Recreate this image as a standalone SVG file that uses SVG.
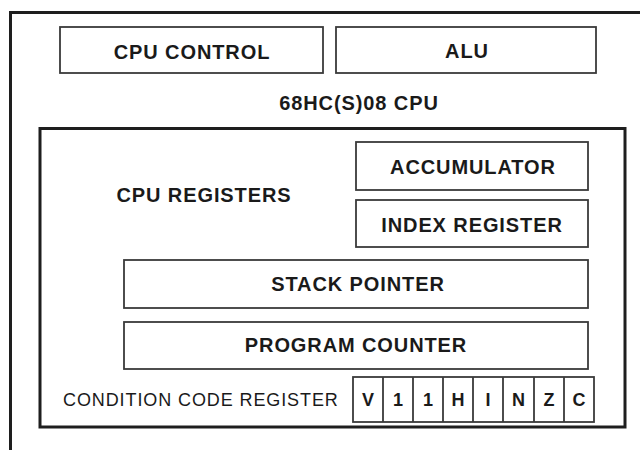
<svg xmlns="http://www.w3.org/2000/svg" width="640" height="450" viewBox="0 0 640 450">
<style>
.frame{fill:none;stroke:#1e1e1e;stroke-width:3}
.box{fill:#fff;stroke:#3a3a3a;stroke-width:1.8}
.lbl{font-family:"Liberation Sans",Arial,sans-serif;font-weight:bold;font-size:20px;letter-spacing:0.9px;fill:#1a1a1a;text-anchor:middle}
.reg{font-family:"Liberation Sans",Arial,sans-serif;font-size:18px;letter-spacing:0.9px;fill:#1a1a1a}
.bit{font-family:"Liberation Sans",Arial,sans-serif;font-weight:bold;font-size:18px;fill:#1a1a1a;text-anchor:middle}
</style>
<rect width="640" height="450" fill="#fff"/>
<g id="cpu">
<path class="frame" d="M10.5,450 V12.5 H640"/>
<text class="lbl" x="359" y="110">68HC(S)08 CPU</text>
</g>
<g id="cpu-control">
<rect class="box" x="60" y="27" width="263" height="46"/>
<text class="lbl" x="192" y="59">CPU CONTROL</text>
</g>
<g id="alu">
<rect class="box" x="336" y="27" width="260" height="46"/>
<text class="lbl" x="467" y="58">ALU</text>
</g>
<g id="cpu-registers">
<rect class="frame" x="40" y="128.5" width="585" height="298.5"/>
<text class="lbl" x="204" y="202">CPU REGISTERS</text>
</g>
<g id="accumulator">
<rect class="box" x="356" y="142" width="232" height="48"/>
<text class="lbl" x="473" y="174">ACCUMULATOR</text>
</g>
<g id="index-register">
<rect class="box" x="356" y="200" width="232" height="47"/>
<text class="lbl" x="472" y="232">INDEX REGISTER</text>
</g>
<g id="stack-pointer">
<rect class="box" x="124" y="260" width="464" height="48"/>
<text class="lbl" x="358" y="291">STACK POINTER</text>
</g>
<g id="program-counter">
<rect class="box" x="124" y="322" width="464" height="47"/>
<text class="lbl" x="356" y="352">PROGRAM COUNTER</text>
</g>
<g id="ccr">
<text class="reg" x="63" y="406">CONDITION CODE REGISTER</text>
<rect class="box" x="353" y="377" width="241" height="45"/>
<path fill="none" stroke="#3a3a3a" stroke-width="1.8" d="M383,377V422M413,377V422M443,377V422M473,377V422M503,377V422M534,377V422M564,377V422"/>
<text class="bit" x="368" y="406">V</text>
<text class="bit" x="398" y="406">1</text>
<text class="bit" x="428" y="406">1</text>
<text class="bit" x="458" y="406">H</text>
<text class="bit" x="488" y="406">I</text>
<text class="bit" x="518.5" y="406">N</text>
<text class="bit" x="549" y="406">Z</text>
<text class="bit" x="579" y="406">C</text>
</g>
<g id="connectors"></g>
</svg>
